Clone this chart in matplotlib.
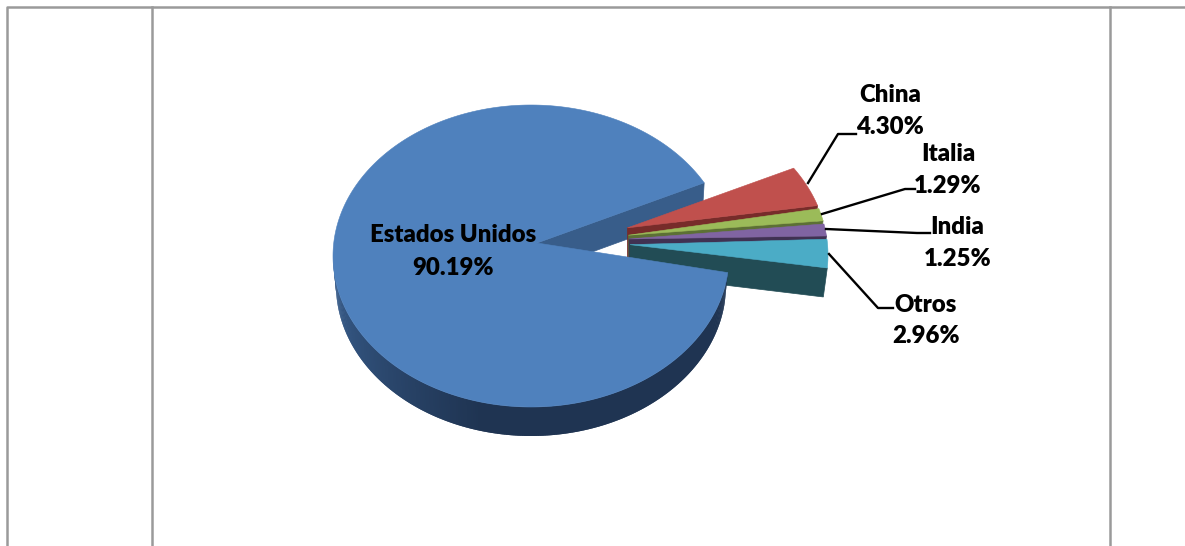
import numpy as np
import matplotlib
matplotlib.use("Agg")
import matplotlib.pyplot as plt
from matplotlib.collections import PolyCollection
from matplotlib.colors import to_rgb
from matplotlib.patches import Polygon

# datos del grafico
paises = ["Estados Unidos", "China", "Italia", "India", "Otros"]
valores = [90.19, 4.30, 1.29, 1.25, 2.96]
etiquetas = ["90.19%", "4.30%", "1.29%", "1.25%", "2.96%"]

colores = ["#4f81bd", "#c0504d", "#9bbb59", "#8064a2", "#4bacc6"]
colores_pared = ["#385d8a", "#772c2a", "#5c7035", "#403152", "#224c55"]

plt.rcParams["font.family"] = ["Lato", "DejaVu Sans"]

PROF = 29  # grosor de la torta


def arco(cx, cy, a, b, t0, t1, n=200):
    t = np.radians(np.linspace(t0, t1, n))
    return np.column_stack([cx + a * np.cos(t), cy - b * np.sin(t)])


def bajar(pts, cx, esc):
    out = np.array(pts, dtype=float)
    out[:, 0] = cx + (out[:, 0] - cx) * esc
    out[:, 1] += PROF
    return out


def cara(ax, p0, p1, cx, esc, color, z):
    pts = np.array([p0, p1])
    abajo = bajar(pts, cx, esc)
    ax.add_patch(Polygon(np.vstack([pts, abajo[::-1]]), closed=True, fc=color, ec=color, lw=0.5, zorder=z))


fig = plt.figure(figsize=(11.85, 5.46), dpi=100)
ax = fig.add_axes([0, 0, 1, 1])
ax.set_xlim(0, 1185)
ax.set_ylim(546, 0)
ax.axis("off")

# marco de la tabla
gris = "#9a9a9a"
ax.plot([6.5, 6.5, 1185], [546, 6.5, 6.5], color=gris, lw=1.8, zorder=1)
ax.plot([152, 152], [6.5, 546], color=gris, lw=1.8, zorder=1)
ax.plot([1110, 1110], [6.5, 546], color=gris, lw=1.8, zorder=1)

# sector principal
cx, cy, a, b = 531, 256, 198, 151
apice = np.array([537, 243])
t_ini = 29.0
t_fin = t_ini + valores[0] / 100 * 360
borde = arco(cx, cy, a, b, t_ini, t_fin, 400)

# pared del corte superior, queda detras de los demas sectores
cara(ax, apice, borde[0], cx, 0.99, colores_pared[0], 2)

# sectores separados
cx2, cy2, a2, b2 = 628, 255, 200, 155
ang = -4.8
tramos = []
for i in [4, 3, 2, 1]:
    d = valores[i] / 100 * 360
    tramos.append((i, ang, ang + d))
    ang += d + 1.2

for i, t0, t1 in tramos:
    z = 3 + i
    medio = (t0 + t1) / 2
    ap = np.array([630 - 0.1 * medio, 245 - 0.65 * medio])
    pts = arco(cx2, cy2, a2, b2, t0, t1, 60)
    # pared del corte, la tapa del siguiente sector la va tapando
    cara(ax, ap, pts[0], cx2, 0.98, colores_pared[i], z)
    ax.add_patch(Polygon(np.vstack([ap, pts]), closed=True, fc=colores[i], ec=colores[i], lw=0.4, zorder=z + 0.5))

# pared curva con degradado
t_pared = np.linspace(180, t_fin, 260)
sup = arco(cx, cy, a, b, 180, t_fin, 260)
inf = bajar(sup, cx, 0.985)
quads = [[sup[j], sup[min(j + 2, 259)], inf[min(j + 2, 259)], inf[j]] for j in range(len(sup) - 1)]
c0, c1 = np.array(to_rgb("#3a6090")), np.array(to_rgb("#1f3452"))
mezcla = np.clip((t_pared[:-1] - 180) / 75, 0, 1)[:, None]
ax.add_collection(PolyCollection(quads, facecolors=c0 * (1 - mezcla) + c1 * mezcla, edgecolors="none", zorder=9))
ax.add_patch(Polygon(np.vstack([apice, borde]), closed=True, fc=colores[0], ec=colores[0], lw=0.4, zorder=10))

# lineas guia
guias_x = [[808, 838, 856], [822, 905, 915], [826, 917, 930], [829, 878, 893]]
guias_y = [[183, 134, 134], [214, 189, 189], [229, 233, 233], [254, 308, 308]]
for gx, gy in zip(guias_x, guias_y):
    ax.plot(gx, gy, color="black", lw=1.7, zorder=11)

# textos
pos_nombre = [(453, 235), (890, 95), (948, 154), (957, 227), (926, 305)]
pos_valor = [(453, 268), (890, 127), (948, 186), (958, 259), (926, 336)]
for i in range(len(paises)):
    ax.text(*pos_nombre[i], paises[i], ha="center", va="center", fontsize=17.3, fontweight="heavy", color="black", zorder=12)
    ax.text(*pos_valor[i], etiquetas[i], ha="center", va="center", fontsize=17.3, fontweight="heavy", color="black", zorder=12)

fig.savefig("out.png", dpi=100)
plt.close(fig)
